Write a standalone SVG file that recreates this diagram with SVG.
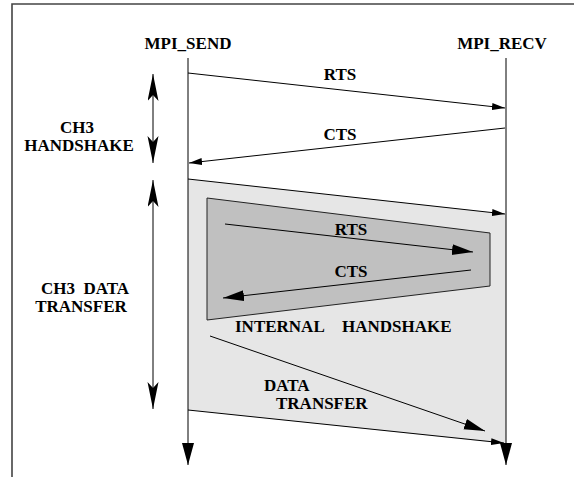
<svg xmlns="http://www.w3.org/2000/svg" width="574" height="477" viewBox="0 0 574 477">
<style>
text{font-family:"Liberation Serif","Times New Roman",serif;font-weight:bold;font-size:17px;fill:#000}
.c{text-anchor:middle}
.ln{stroke:#000;stroke-width:1;fill:none}
</style>
<defs>
<marker id="sm" markerUnits="userSpaceOnUse" markerWidth="14" markerHeight="8" refX="13" refY="3.5" orient="auto"><path d="M0,0 L13,3.5 L0,7 z" fill="#000"/></marker>
<marker id="md" markerUnits="userSpaceOnUse" markerWidth="22" markerHeight="12" refX="21" refY="5.5" orient="auto"><path d="M0,0 L21,5.5 L0,11 z" fill="#000"/></marker>
<marker id="lf" markerUnits="userSpaceOnUse" markerWidth="24" markerHeight="14" refX="22" refY="6" orient="auto"><path d="M0,0 L22,6 L0,12 z" fill="#000"/></marker>
<marker id="dbl" markerUnits="userSpaceOnUse" markerWidth="28" markerHeight="12" refX="27" refY="5.5" orient="auto-start-reverse"><path d="M0,0 L27,5.5 L0,11 L6,5.5 z" fill="#000"/></marker>
</defs>
<g id="frame"><path d="M12,477 V4 H574" fill="none" stroke="#444" stroke-width="1.6"/></g>
<g id="outer-region"><polygon points="188,179 506,214 506,444 188,410" fill="#e6e6e6"/></g>
<g id="inner-region"><polygon points="207,198 490,233 490,286 207,320" fill="#c0c0c0" stroke="#222" stroke-width="1"/></g>
<g id="connectors">
<line class="ln" x1="188" y1="58" x2="188" y2="465" marker-end="url(#lf)"/>
<line class="ln" x1="506" y1="58" x2="506" y2="465" marker-end="url(#lf)"/>
<line class="ln" x1="188" y1="73" x2="505" y2="108" marker-end="url(#sm)"/>
<line class="ln" x1="505" y1="128" x2="189" y2="163" marker-end="url(#sm)"/>
<line class="ln" x1="188" y1="179" x2="505" y2="214" marker-end="url(#sm)"/>
<line class="ln" x1="188" y1="410" x2="504" y2="443" marker-end="url(#sm)"/>
<line class="ln" x1="225" y1="224" x2="473" y2="252" marker-end="url(#md)"/>
<line class="ln" x1="471" y1="270" x2="223" y2="298" marker-end="url(#md)"/>
<line class="ln" x1="210" y1="336" x2="485" y2="431" marker-end="url(#md)"/>
<line class="ln" x1="153" y1="74" x2="153" y2="163" marker-start="url(#dbl)" marker-end="url(#dbl)"/>
<line class="ln" x1="153" y1="180" x2="153" y2="409" marker-start="url(#dbl)" marker-end="url(#dbl)"/>
</g>
<g id="labels">
<text class="c" x="188" y="49">MPI_SEND</text>
<text class="c" x="502" y="49">MPI_RECV</text>
<text class="c" x="340" y="80">RTS</text>
<text class="c" x="340" y="140">CTS</text>
<text class="c" x="77" y="133">CH3</text>
<text class="c" x="79" y="151">HANDSHAKE</text>
<text class="c" x="85" y="294" xml:space="preserve">CH3  DATA</text>
<text class="c" x="81" y="312">TRANSFER</text>
<text class="c" x="351" y="235">RTS</text>
<text class="c" x="351" y="277">CTS</text>
<text x="235" y="332">INTERNAL</text>
<text x="342" y="332">HANDSHAKE</text>
<text x="264" y="391">DATA</text>
<text x="276" y="409">TRANSFER</text>
</g>
</svg>
